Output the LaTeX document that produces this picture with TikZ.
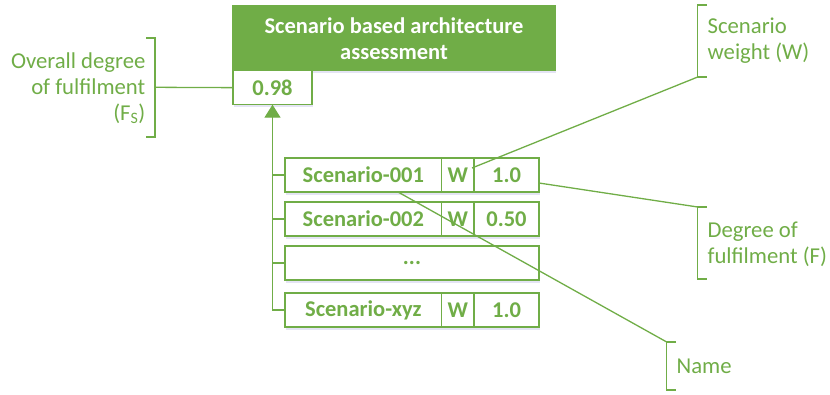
\documentclass[tikz,border=0pt]{standalone}
\usepackage{fontspec}
\setmainfont{Carlito}
\usepackage{tikz}
\usetikzlibrary{arrows.meta, positioning, shadows}
\usepackage{xcolor}
\definecolor{accgreen}{HTML}{70AD47}

\begin{document}
\begin{tikzpicture}[x=1pt, y=-1pt, line width=1.3pt,
    txt/.style={font=\fontsize{22.7}{26}\selectfont},
    boxshadow/.style={drop shadow={shadow xshift=1pt, shadow yshift=-2.5pt, opacity=0.15, fill=blue!40!gray}},
    cell/.style={txt, draw=accgreen, fill=white, text=accgreen, font=\fontsize{22.5}{26}\selectfont\bfseries,
        minimum height=34pt, inner sep=0pt, outer sep=0pt, boxshadow},
    titlebox/.style={cell, fill=accgreen, draw=accgreen, text=white, align=center},
    lbl/.style={txt, text=accgreen, inner sep=0pt},
    lead/.style={draw=accgreen}]
    \useasboundingbox (0,0) rectangle (830,394);

    % Kopf
    \node[titlebox, minimum width=322pt, minimum height=64.7pt] (title) at (394,38.3)
        {Scenario based architecture\\assessment};
    \node[cell, anchor=north west, minimum width=79pt] (score) at (title.south west) {0.98};

    % Szenarien
    \foreach \i/\y/\sname/\val in {1/175/Scenario-001/1.0, 2/219/Scenario-002/0.50, 4/310/Scenario-xyz/1.0} {
        \node[cell, anchor=west, minimum width=156.7pt] (n\i) at (285,\y) {\sname};
        \node[cell, right=0pt of n\i, minimum width=32.3pt] (w\i) {W};
        \node[cell, right=0pt of w\i, minimum width=65pt] (v\i) {\val};
    }
    \node[cell, anchor=west, minimum width=254pt] (n3) at (285,263) {...};

    % Baum
    \draw[lead, -{Triangle[width=16pt, length=13pt]}] (n4.west) -| (score.south);
    \foreach \i in {1,2,3}
        \draw[lead] (n\i.west) -- (n\i.west -| score.south);

    % Beschriftung links
    \node[lbl, anchor=east, align=right] (fslbl) at (146,88)
        {Overall degree\\of fulfilment\\(F\textsubscript{S})};
    \draw[lead] (146,38) -- (155,38) -- (155,137) -- (146,137);
    \coordinate (fsbr) at (155,87.3);
    \draw[lead] (fsbr) -- (score.west);

    % Beschriftung rechts
    \node[lbl, anchor=west, align=left] (wlbl) at (707,41) {Scenario\\weight (W)};
    \draw[lead] (707,5) -- (697.7,5) -- (697.7,77) -- (707,77);
    \coordinate (wbr) at (697.7,77);
    \coordinate (wtip) at (472,168);
    \draw[lead] (wtip) -- (wbr);

    \node[lbl, anchor=west, align=left] (flbl) at (707,244) {Degree of\\fulfilment (F)};
    \draw[lead] (707,207) -- (697.7,207) -- (697.7,279) -- (707,279);
    \coordinate (fbr) at (697.7,207);
    \draw[lead] ([yshift=-8pt]v1.east) -- (fbr);

    \node[lbl, anchor=west] (nlbl) at (676,366) {Name};
    \draw[lead] (676,342) -- (666.7,342) -- (666.7,390) -- (676,390);
    \coordinate (nbr) at (666.7,342);
    \draw[lead] (n1.south -| 398,0) -- (nbr);
\end{tikzpicture}
\end{document}
